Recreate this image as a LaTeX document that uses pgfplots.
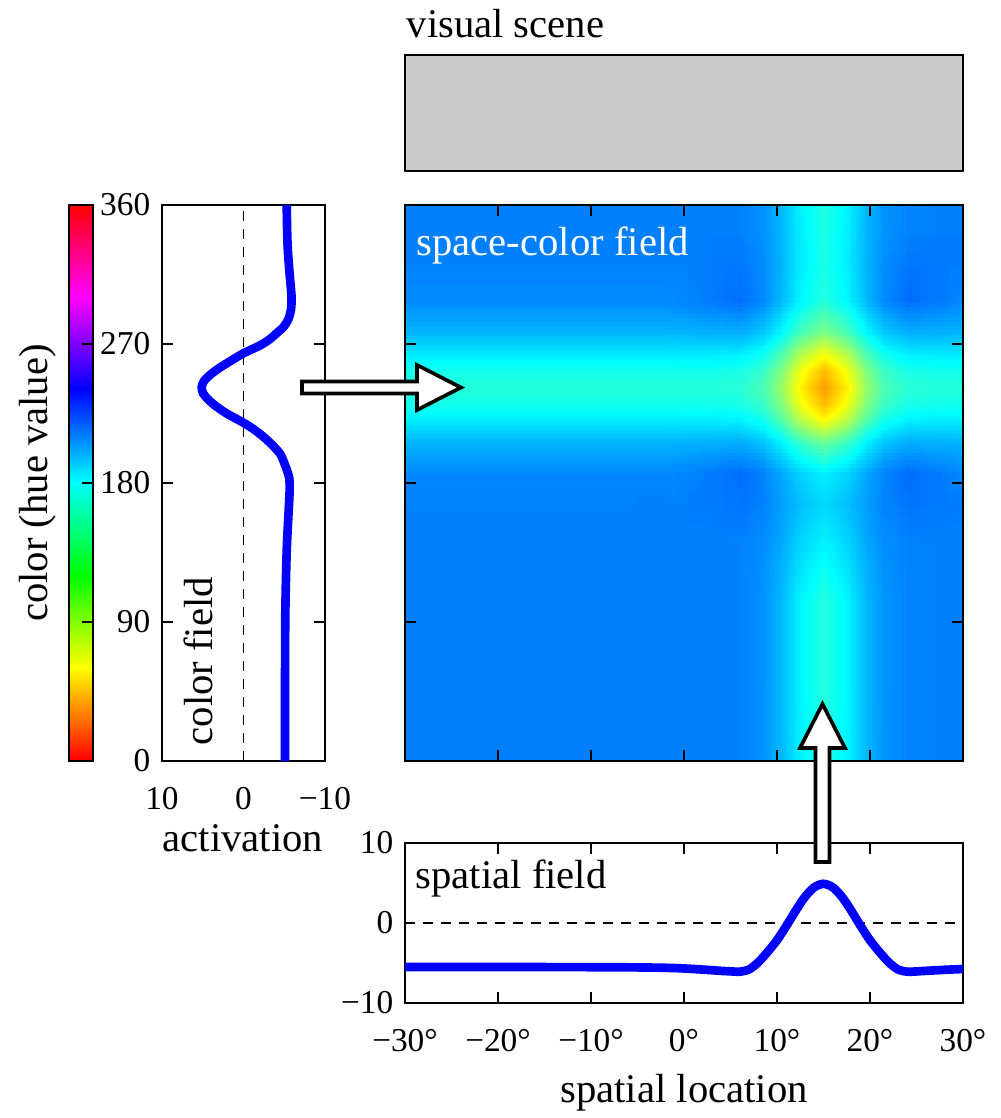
\documentclass[border=0pt]{standalone}
\usepackage{fontspec}
\setmainfont{Liberation Serif}
\usepackage{pgfplots}
\pgfplotsset{compat=1.18}
\usepgfplotslibrary{patchplots}

\newcommand\labfont{\fontsize{12.2}{14}\selectfont}
\newcommand\tickfont{\fontsize{10}{12}\selectfont}

\pgfplotsset{
  colormap={hue}{rgb=(1,0,0) rgb=(1,1,0) rgb=(0,1,0) rgb=(0,1,1) rgb=(0,0,1) rgb=(1,0,1) rgb=(1,0,0)},
  panel/.style={
    scale only axis, anchor=north west,
    axis line style={line width=0.7pt},
    tick style={black, line width=0.7pt},
    tick align=inside, major tick length=3.4pt,
    tick label style={font=\tickfont},
    xticklabel style={yshift=-4.5pt},
  },
  field curve/.style={blue, line width=2.6pt, smooth, tension=0.5},
  zero line/.style={black, line width=0.5pt, dash pattern=on 3pt off 2.4pt},
}

\begin{document}
\begin{tikzpicture}
% layout in pixel units (y grows downward)
\begin{scope}[x=0.3pt, y=-0.3pt]
  \useasboundingbox (0,0) rectangle (1001,1118);
  \coordinate (cb) at (69,205);
  \coordinate (cf) at (162,205);
  \coordinate (hm) at (405,205);
  \coordinate (sp) at (405,843);
  \coordinate (vs) at (405,55);
\end{scope}

% visual scene
\begin{axis}[panel, at={(vs)}, width=167.4pt, height=34.8pt,
  xmin=0, xmax=1, ymin=0, ymax=1, xtick=\empty, ytick=\empty,
  axis background/.style={fill=black!20}]
\end{axis}

% hue colour bar (shading only)
\begin{axis}[scale only axis, anchor=north west, at={(cb)}, width=7.2pt, height=166.8pt,
  xmin=0, xmax=1, ymin=0, ymax=360, hide axis, view={0}{90},
  colormap name=hue, point meta min=0, point meta max=360]
\addplot3[surf, shader=interp, patch type=bilinear, mesh/cols=2, point meta=\thisrow{h}]
  table[x=x, y=h, z expr=0] {
x h
0 0
1 0

0 30
1 30

0 60
1 60

0 90
1 90

0 120
1 120

0 150
1 150

0 180
1 180

0 210
1 210

0 240
1 240

0 270
1 270

0 300
1 300

0 330
1 330

0 360
1 360
};
\end{axis}
% colour bar frame and ticks
\begin{axis}[panel, at={(cb)}, width=7.2pt, height=166.8pt,
  xmin=0, xmax=1, ymin=0, ymax=360, xtick=\empty,
  ytick={90,180,270}, yticklabels={}, ytick pos=right]
\end{axis}

% colour field
\begin{axis}[panel, at={(cf)}, width=48.9pt, height=166.8pt,
  xmin=-10, xmax=10, x dir=reverse, ymin=0, ymax=360,
  xtick={-10,0,10}, xticklabels={−10,0,10}, xtick pos=bottom,
  every x tick/.append style={draw=none},
  ytick={0,90,180,270,360}, yticklabels={0,90,180,270,360},
  ytick pos=both, yticklabel pos=left]
\addplot[zero line] coordinates {(0,0) (0,360)};
\addplot[field curve] table[x=a, y=h] {
a h
-5.10 0
-5.10 45
-5.12 90
-5.22 120
-5.33 140
-5.52 160
-5.66 175
-5.62 183
-5.35 188
-5.00 193
-4.48 199
-3.45 205
-2.43 210
-1.20 215
0.00 219
2.06 225
3.45 230
4.32 234
4.95 238
5.13 242
4.85 246
4.10 250
3.10 254
1.90 258
0.00 264
-2.00 269
-3.20 273
-4.07 277
-4.90 281
-5.50 286
-5.82 292
-5.90 300
-5.75 310
-5.62 318
-5.45 330
-5.37 340
-5.30 360
};
\end{axis}

% space-colour field (shading only)
\begin{axis}[scale only axis, anchor=north west, at={(hm)}, width=167.4pt, height=166.8pt,
  xmin=-30, xmax=30, ymin=0, ymax=360, hide axis, view={0}{90},
  colormap/jet, point meta min=-13.33, point meta max=20]
\addplot3[surf, shader=interp, patch type=bilinear, mesh/cols=16, point meta=\thisrow{v}]
  table[x=x, y=h, z expr=0] {
x h v
-30 0 -5
-18 0 -5
-8 0 -5
-2 0 -5
3 0 -5
6 0 -4.90
8.5 0 -4.34
10.5 0 -3.07
12.5 0 -1.17
15 0 0.20
17.5 0 -1.17
19.5 0 -3.07
21.5 0 -4.34
24 0 -4.90
27 0 -5
30 0 -5

-30 50 -5
-18 50 -5
-8 50 -5
-2 50 -5
3 50 -5
6 50 -4.90
8.5 50 -4.33
10.5 50 -3.03
12.5 50 -1.09
15 50 0.30
17.5 50 -1.09
19.5 50 -3.03
21.5 50 -4.33
24 50 -4.90
27 50 -5
30 50 -5

-30 100 -5
-18 100 -5
-8 100 -5
-2 100 -5
3 100 -5
6 100 -4.90
8.5 100 -4.33
10.5 100 -3.03
12.5 100 -1.09
15 100 0.30
17.5 100 -1.09
19.5 100 -3.03
21.5 100 -4.33
24 100 -4.90
27 100 -5
30 100 -5

-30 140 -5
-18 140 -5
-8 140 -5
-2 140 -5
3 140 -5.01
6 140 -4.94
8.5 140 -4.53
10.5 140 -3.59
12.5 140 -2.20
15 140 -1.20
17.5 140 -2.20
19.5 140 -3.59
21.5 140 -4.53
24 140 -4.94
27 140 -5.01
30 140 -5

-30 165 -4.96
-18 165 -4.96
-8 165 -4.96
-2 165 -4.97
3 165 -5.18
6 165 -5.36
8.5 165 -4.88
10.5 165 -4.00
12.5 165 -2.89
15 165 -2.13
17.5 165 -2.89
19.5 165 -4.00
21.5 165 -4.88
24 165 -5.36
27 165 -5.18
30 165 -4.99

-30 185 -4.65
-18 185 -4.65
-8 185 -4.65
-2 185 -4.66
3 185 -5.14
6 185 -5.59
8.5 185 -4.84
10.5 185 -3.61
12.5 185 -2.24
15 185 -1.33
17.5 185 -2.24
19.5 185 -3.61
21.5 185 -4.84
24 185 -5.59
27 185 -5.14
30 185 -4.71

-30 205 -3.28
-18 205 -3.28
-8 205 -3.28
-2 205 -3.28
3 205 -3.46
6 205 -3.54
8.5 205 -2.77
10.5 205 -1.20
12.5 205 0.98
15 205 2.52
17.5 205 0.98
19.5 205 -1.20
21.5 205 -2.77
24 205 -3.54
27 205 -3.46
30 205 -3.30

-30 219 -1.52
-18 219 -1.52
-8 219 -1.52
-2 219 -1.52
3 219 -1.55
6 219 -1.42
8.5 219 -0.45
10.5 219 1.71
12.5 219 4.91
15 219 7.20
17.5 219 4.91
19.5 219 1.71
21.5 219 -0.45
24 219 -1.42
27 219 -1.55
30 219 -1.52

-30 230 -0.23
-18 230 -0.23
-8 230 -0.23
-2 230 -0.23
3 230 -0.23
6 230 -0.04
8.5 230 1.03
10.5 230 3.46
12.5 230 7.07
15 230 9.68
17.5 230 7.07
19.5 230 3.46
21.5 230 1.03
24 230 -0.04
27 230 -0.23
30 230 -0.23

-30 241 0.30
-18 241 0.30
-8 241 0.30
-2 241 0.30
3 241 0.30
6 241 0.50
8.5 241 1.62
10.5 241 4.17
12.5 241 7.97
15 241 10.70
17.5 241 7.97
19.5 241 4.17
21.5 241 1.62
24 241 0.50
27 241 0.30
30 241 0.30

-30 252 -0.23
-18 252 -0.23
-8 252 -0.23
-2 252 -0.23
3 252 -0.23
6 252 -0.04
8.5 252 1.03
10.5 252 3.46
12.5 252 7.07
15 252 9.68
17.5 252 7.07
19.5 252 3.46
21.5 252 1.03
24 252 -0.04
27 252 -0.23
30 252 -0.23

-30 263 -1.52
-18 263 -1.52
-8 263 -1.52
-2 263 -1.52
3 263 -1.55
6 263 -1.42
8.5 263 -0.45
10.5 263 1.71
12.5 263 4.91
15 263 7.20
17.5 263 4.91
19.5 263 1.71
21.5 263 -0.45
24 263 -1.42
27 263 -1.55
30 263 -1.52

-30 277 -3.28
-18 277 -3.28
-8 277 -3.28
-2 277 -3.28
3 277 -3.46
6 277 -3.53
8.5 277 -2.69
10.5 277 -0.97
12.5 277 1.42
15 277 3.12
17.5 277 1.42
19.5 277 -0.97
21.5 277 -2.69
24 277 -3.53
27 277 -3.46
30 277 -3.30

-30 297 -4.65
-18 297 -4.65
-8 297 -4.65
-2 297 -4.66
3 297 -5.14
6 297 -5.56
8.5 297 -4.63
10.5 297 -3.02
12.5 297 -1.06
15 297 0.27
17.5 297 -1.06
19.5 297 -3.02
21.5 297 -4.63
24 297 -5.56
27 297 -5.14
30 297 -4.71

-30 320 -4.98
-18 320 -4.98
-8 320 -4.98
-2 320 -4.98
3 320 -5.14
6 320 -5.23
8.5 320 -4.56
10.5 320 -3.22
12.5 320 -1.36
15 320 -0.06
17.5 320 -1.36
19.5 320 -3.22
21.5 320 -4.56
24 320 -5.23
27 320 -5.14
30 320 -5.00

-30 340 -5
-18 340 -5
-8 340 -5
-2 340 -5
3 340 -5
6 340 -4.91
8.5 340 -4.37
10.5 340 -3.14
12.5 340 -1.32
15 340 0.00
17.5 340 -1.32
19.5 340 -3.14
21.5 340 -4.37
24 340 -4.91
27 340 -5
30 340 -5

-30 360 -5
-18 360 -5
-8 360 -5
-2 360 -5
3 360 -5
6 360 -4.90
8.5 360 -4.34
10.5 360 -3.07
12.5 360 -1.17
15 360 0.20
17.5 360 -1.17
19.5 360 -3.07
21.5 360 -4.34
24 360 -4.90
27 360 -5
30 360 -5
};
\end{axis}
% frame and ticks of the space-colour field
\begin{axis}[panel, at={(hm)}, width=167.4pt, height=166.8pt,
  xmin=-30, xmax=30, ymin=0, ymax=360,
  xtick={-20,-10,0,10,20}, ytick={90,180,270},
  xticklabels={}, yticklabels={}, xtick pos=both, ytick pos=both]
\end{axis}

% spatial field
\begin{axis}[panel, at={(sp)}, width=167.4pt, height=48pt,
  xmin=-30, xmax=30, ymin=-10, ymax=10,
  xtick={-30,-20,...,30}, xticklabels={−30°,−20°,−10°,0°,10°,20°,30°},
  xtick pos=both, xticklabel pos=lower,
  ytick={-10,0,10}, yticklabels={−10,0,10}, ytick pos=left,
  every y tick/.append style={draw=none}]
\addplot[zero line] coordinates {(-30,0) (30,0)};
\addplot[field curve] table[x=x, y=a] {
x a
-30 -5.50
-20 -5.50
-10 -5.52
-5 -5.55
-2 -5.60
0 -5.68
2 -5.82
4 -5.98
5 -6.04
6 -6.08
7 -5.80
8 -4.90
9 -3.60
10 -2.15
11 -0.38
12 1.52
13 3.25
14 4.46
15 4.90
16 4.46
17 3.25
18 1.52
19 -0.38
20 -2.15
21 -3.60
22 -4.90
23 -5.80
24 -6.08
25 -6.05
26 -5.98
28 -5.85
30 -5.75
};
\end{axis}

% labels and input arrows
\begin{scope}[x=0.3pt, y=-0.3pt]
  \node[anchor=base west, inner sep=0, font=\labfont] at (406,37) {visual scene};
  \node[anchor=base west, inner sep=0, font=\labfont, text=white] at (416,255) {space-color field};
  \node[anchor=base west, inner sep=0, font=\labfont] at (415,888) {spatial field};
  \node[anchor=base west, inner sep=0, font=\labfont, rotate=90] at (212,746) {color field};
  \node[anchor=base, inner sep=0, font=\labfont, rotate=90] at (47,483) {color (hue value)};
  \node[anchor=base, inner sep=0, font=\labfont] at (243,851) {activation};
  \node[anchor=base, inner sep=0, font=\labfont] at (684,1102) {spatial location};
  \draw[line width=1.1pt, fill=white]
    (302,381.5) -- (417,381.5) -- (417,365) -- (461,387.5) -- (417,410)
    -- (417,393.5) -- (302,393.5) -- cycle;
  \draw[line width=1.1pt, fill=white]
    (815.5,862) -- (815.5,748) -- (800,748) -- (822.5,704) -- (845,748)
    -- (829.5,748) -- (829.5,862) -- cycle;
\end{scope}
\end{tikzpicture}
\end{document}
